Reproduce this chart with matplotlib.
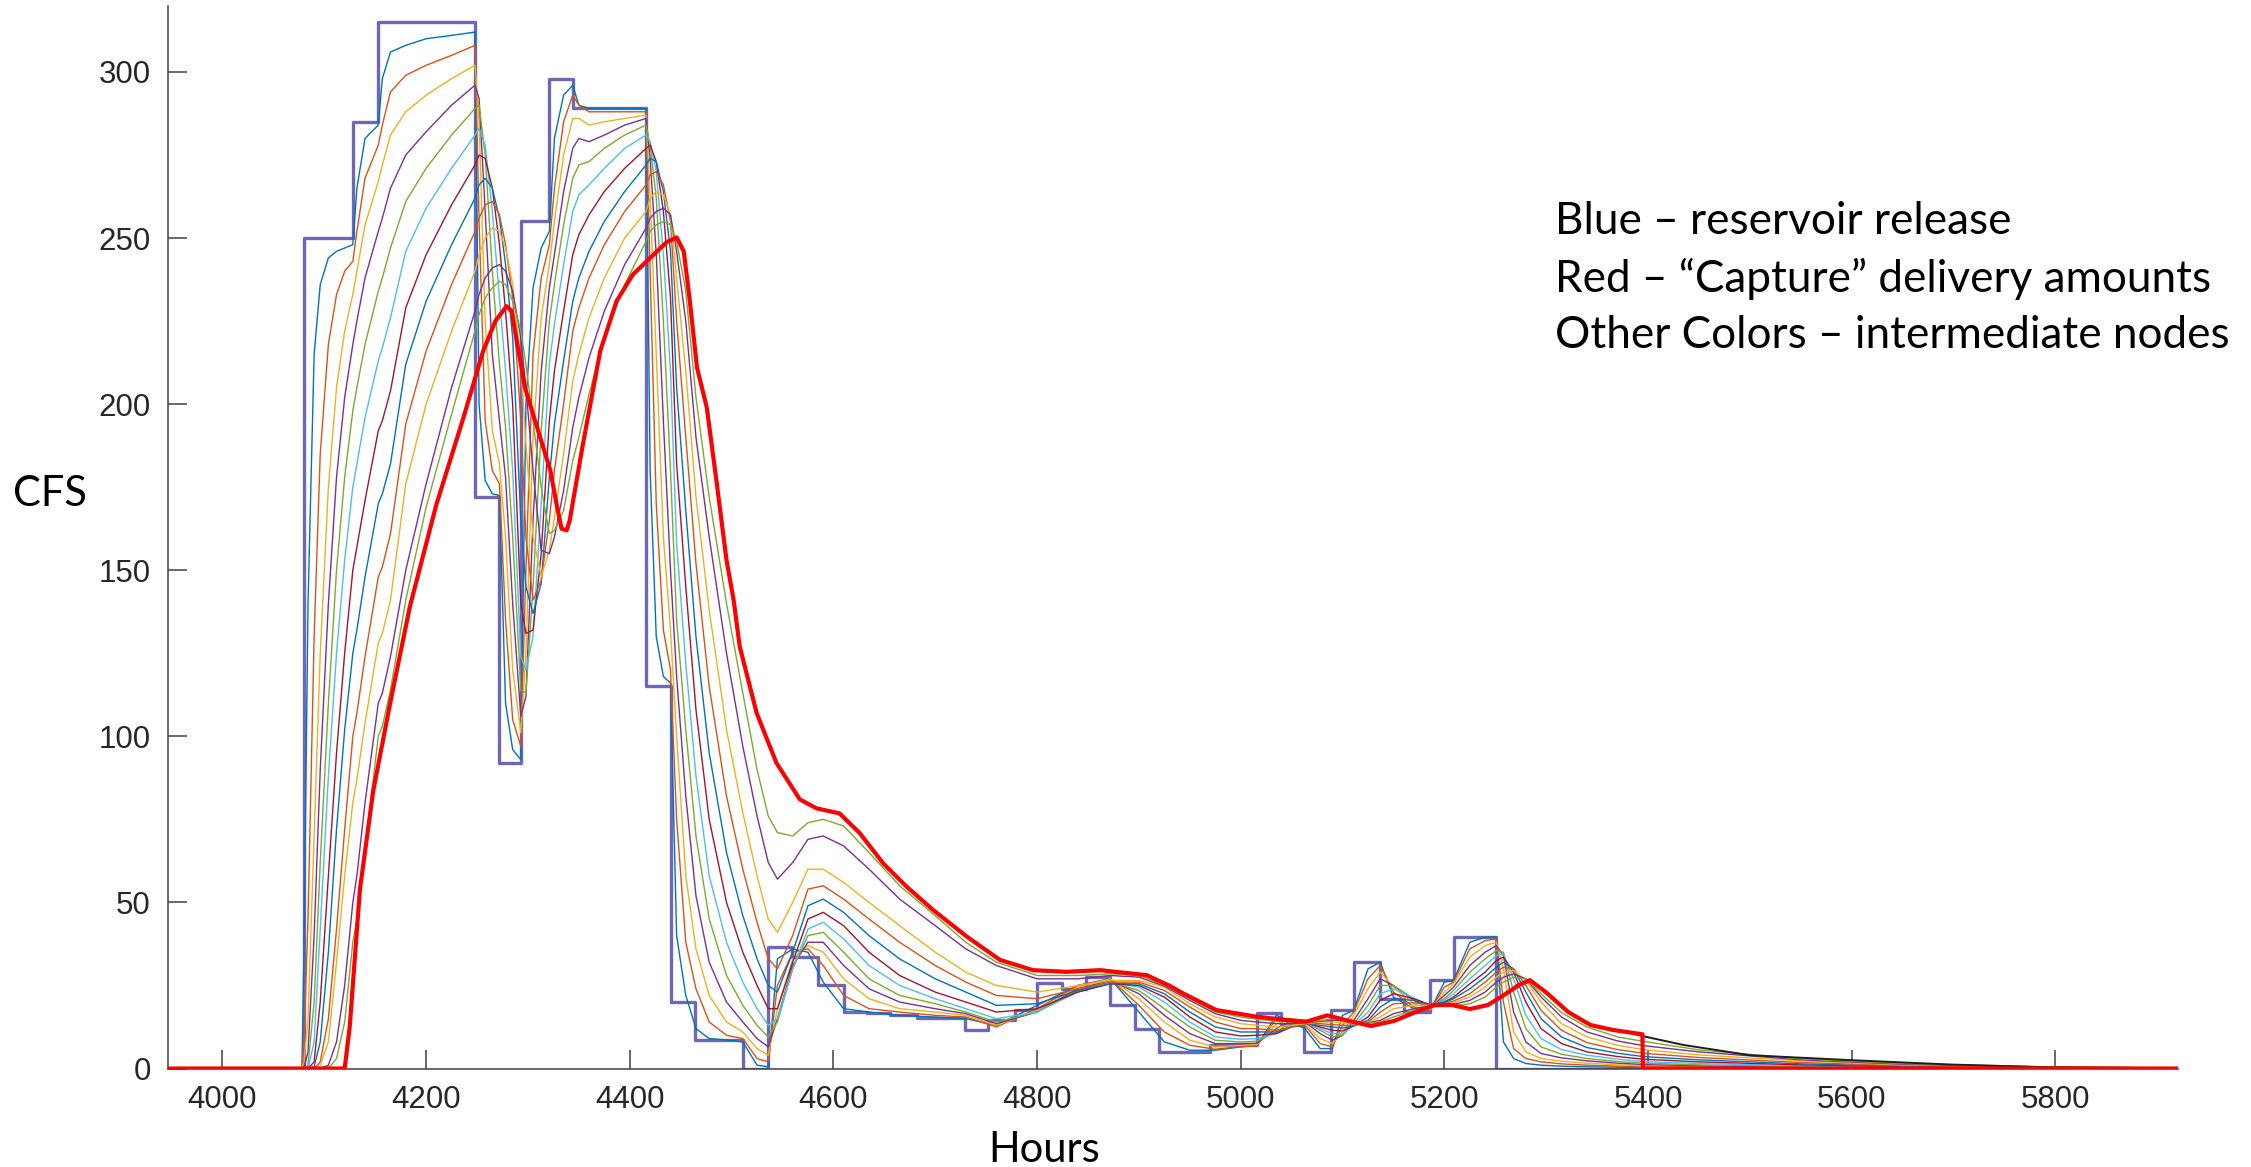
import numpy as np
import matplotlib
matplotlib.use("Agg")
import matplotlib.pyplot as plt

# ---------------- data ----------------
# Blue: reservoir release (step series, value holds until next hour listed)
release_hours = [3946, 4080, 4128, 4153, 4248, 4272, 4293, 4321, 4344, 4416,
                 4440, 4464, 4511, 4536, 4559, 4585, 4610, 4633, 4656, 4682,
                 4729, 4752, 4778, 4800, 4824, 4848, 4872, 4896, 4920, 4970,
                 5016, 5040, 5062, 5089, 5111, 5137, 5160, 5186, 5209, 5251, 5920]
release_cfs = [0, 250, 285, 315, 172, 92, 255, 298, 289, 115,
               20, 8.6, 0, 36.6, 33.7, 25.1, 17.1, 16.6, 16.1, 15.1,
               11.6, 14.6, 17.6, 25.6, 24, 27.6, 19.1, 12, 5.1, 7,
               16.6, 13, 5.1, 17.6, 32.2, 21, 17, 26.6, 39.6, 0, 0]

# Red: "Capture" delivery amounts
capture_hours = [3946, 4120, 4125, 4135, 4148, 4164.5, 4184, 4210, 4236.5, 4256,
                 4268, 4279, 4284, 4289, 4297, 4305, 4322, 4328, 4333, 4338,
                 4341, 4354, 4371, 4387, 4403, 4420, 4436, 4446, 4453, 4459,
                 4466, 4475.6, 4485.5, 4495, 4502, 4508, 4524.6, 4544, 4567, 4583.5,
                 4606, 4626, 4649, 4672, 4698, 4731, 4763.5, 4796, 4829, 4862,
                 4907.5, 4929.5, 4943.5, 4976, 5015.5, 5045, 5064.6, 5085, 5106.6, 5128,
                 5150.5, 5172, 5190, 5207.6, 5225, 5242.6, 5256, 5273, 5284, 5299.6,
                 5321.6, 5343.5, 5365.5, 5394.5, 5395, 5920]
capture_cfs = [0, 0, 12.7, 54, 83.5, 109.7, 139, 169.7, 195.8, 216,
               225, 229.5, 228, 219, 205, 197, 180, 170, 162.5, 162,
               165, 188, 216, 231, 239, 244, 248.7, 250.2, 246, 231,
               211, 199, 176, 153, 141, 127, 107, 92, 81, 78.3,
               76.8, 70.8, 61.7, 54.7, 47.7, 39.7, 32.7, 29.6, 29.1, 29.6,
               28.1, 25, 22.6, 17.6, 15.6, 14.6, 14.1, 16, 14.3, 12.8,
               14.3, 17.0, 19.1, 19.1, 17.9, 19.1, 21.6, 25.1, 26.6, 23,
               17, 13.1, 11.6, 10.3, 0, 0]

# Dark node that continues after the capture stops
tail_hours = [5380, 5394, 5434.6, 5500, 5600, 5696.5, 5794.7, 5920]
tail_cfs = [11.0, 9.8, 7.1, 4.0, 2.5, 1.2, 0.35, 0.1]

# Intermediate nodes: one row per hour, twelve nodes (fast -> slow)
node_hours = [3946, 4078, 4080, 4084, 4090, 4096, 4104, 4112, 4120, 4128,
              4132, 4140, 4153, 4157, 4165, 4180, 4200, 4225, 4248, 4252,
              4258, 4265, 4272, 4278, 4285, 4293, 4298, 4305, 4313, 4321,
              4326, 4335, 4344, 4350, 4360, 4375, 4395, 4416, 4420, 4426,
              4433, 4440, 4446, 4455, 4465, 4478, 4495, 4511, 4525, 4536,
              4545, 4560, 4575, 4590, 4610, 4635, 4665, 4700, 4730, 4760,
              4800, 4840, 4872, 4900, 4925, 4950, 4975, 5000, 5016, 5035,
              5050, 5063, 5078, 5090, 5100, 5111, 5125, 5137, 5150, 5170,
              5186, 5200, 5209, 5225, 5240, 5251, 5258, 5268, 5280, 5295,
              5315, 5340, 5370, 5395, 5450, 5550, 5650, 5800, 5920]
node_cfs_by_hour = [
    [0, 0, 0, 0, 0, 0, 0, 0, 0, 0, 0, 0],
    [0, 0, 0, 0, 0, 0, 0, 0, 0, 0, 0, 0],
    [35, 8, 2, 0, 0, 0, 0, 0, 0, 0, 0, 0],
    [140, 45, 15, 5, 1, 0, 0, 0, 0, 0, 0, 0],
    [215, 130, 70, 40, 20, 8, 2, 0.5, 0, 0, 0, 0],
    [236, 185, 125, 90, 62, 42, 20, 8, 2, 1, 0, 0],
    [244, 218, 175, 140, 110, 88, 58, 35, 15, 8, 1, 0],
    [246, 233, 205, 178, 150, 125, 95, 72, 42, 32, 8, 3],
    [247, 240, 222, 202, 178, 153, 125, 102, 72, 58, 25, 14],
    [248, 243, 233, 218, 198, 175, 150, 125, 100, 80, 50, 38],
    [265, 252, 240, 225, 205, 182, 157, 132, 107, 87, 58, 45],
    [280, 268, 254, 238, 218, 196, 171, 148, 124, 104, 80, 66],
    [284, 278, 267, 252, 234, 213, 192, 170, 148, 128, 110, 100],
    [298, 284, 272, 256, 238, 217, 195, 173, 151, 131, 113, 103],
    [306, 294, 281, 265, 247, 226, 204, 182, 161, 141, 124, 114],
    [308, 299, 288, 275, 261, 246, 229, 212, 194, 176, 150, 141],
    [310, 302, 293, 282, 271, 259, 245, 231, 216, 200, 176, 169],
    [311, 305, 298, 290, 281, 271, 260, 248, 236, 222, 205, 197],
    [312, 308, 302, 296, 289, 281, 272, 262, 252, 240, 228, 222],
    [200, 255, 285, 292, 290, 283, 275, 266, 256, 245, 233, 227],
    [177, 195, 225, 258, 275, 278, 274, 268, 260, 250, 238, 232],
    [173, 180, 192, 215, 240, 258, 265, 265, 261, 253, 241, 235],
    [172.5, 176, 182, 195, 212, 232, 248, 256, 257, 252, 242, 237],
    [110, 135, 160, 178, 193, 210, 228, 242, 248, 247, 240, 236],
    [96, 105, 120, 140, 160, 180, 200, 220, 232, 236, 234, 231],
    [93, 97, 101, 106, 114, 124, 140, 165, 195, 212, 220, 222],
    [200, 150, 125, 112, 113, 120, 131, 145, 160, 188, 205, 212],
    [235, 215, 190, 165, 145, 130, 132, 137, 141, 160, 180, 195],
    [247, 238, 226, 210, 192, 170, 155, 146, 147, 148, 156, 175],
    [252, 248, 242, 235, 225, 212, 195, 178, 165, 156, 155, 161],
    [280, 265, 255, 245, 236, 224, 210, 194, 180, 166, 160, 162],
    [293, 285, 275, 264, 254, 242, 228, 213, 200, 185, 174, 168],
    [296, 293, 286, 277, 268, 258, 245, 231, 222, 207, 193, 183],
    [290, 290, 286, 280, 272, 263, 251, 238, 229, 215, 202, 190],
    [289, 288, 284, 279, 273, 266, 257, 246, 238, 226, 214, 203],
    [289, 288, 285, 281, 277, 271, 264, 255, 248, 238, 228, 220],
    [289, 288, 286, 284, 281, 277, 271, 264, 258, 250, 242, 236],
    [289, 288, 287, 286, 284, 281, 277, 272, 266, 258, 253, 249],
    [180, 240, 262, 274, 278, 279, 278, 274, 269, 262, 256, 252],
    [130, 170, 215, 245, 262, 270, 273, 273, 270, 264, 258, 254],
    [118, 132, 160, 195, 225, 245, 258, 264, 266, 263, 259, 255],
    [116, 120, 132, 150, 180, 210, 232, 246, 255, 257, 257, 254],
    [40, 75, 100, 118, 135, 158, 182, 205, 225, 238, 246, 249],
    [22, 38, 58, 82, 102, 122, 145, 168, 190, 210, 225, 234],
    [12, 24, 36, 52, 70, 88, 108, 130, 152, 172, 190, 202],
    [9, 14, 22, 32, 45, 58, 75, 95, 115, 138, 160, 172],
    [8.6, 10, 14, 20, 28, 38, 50, 65, 82, 102, 125, 140],
    [8, 9, 11, 14, 19, 26, 35, 46, 60, 77, 97, 113],
    [1, 3, 6, 9, 13, 18, 25, 33, 44, 58, 76, 90],
    [0.5, 2, 4, 6.5, 9.5, 13, 18, 25, 33, 45, 62, 76],
    [33, 25, 18, 15, 14, 15, 18, 23, 30, 41, 57, 71],
    [36, 35, 33, 31, 30, 30, 32, 35, 40, 50, 62, 70],
    [35, 36, 37, 38, 40, 42, 45, 49, 54, 60, 69, 74],
    [26, 31, 35, 38, 41, 44, 47, 51, 55, 60, 70, 75],
    [18, 22, 27, 31, 35, 39, 43, 47, 51, 56, 67, 73],
    [17, 18, 21, 24, 27, 31, 35, 40, 45, 50, 60, 65],
    [16, 17, 18, 20, 22, 25, 28, 33, 38, 43, 51, 55],
    [15.5, 16, 17, 18, 19.5, 21, 23, 27, 31, 35, 43, 46],
    [15, 15.5, 16, 16.5, 17, 18, 20, 23, 26, 29, 36, 38],
    [13, 12.5, 13, 13.5, 14, 15, 17, 19, 22, 25, 31, 32],
    [19, 18, 17.5, 17, 17, 17, 18, 19.5, 21, 23, 27, 28],
    [25, 25, 24.5, 24, 23.5, 23, 23, 23.5, 24, 25, 27, 28],
    [27, 27, 27, 26.5, 26, 26, 25.5, 25.5, 26, 26.5, 28, 28.5],
    [17, 19, 21, 22.5, 23.5, 24.5, 25, 25.5, 26, 26.5, 27.5, 28],
    [8, 11, 14, 16, 18, 20, 21.5, 22.5, 23.5, 24.5, 24.8, 25.2],
    [5.5, 7, 8.5, 10.5, 12.5, 14, 15.5, 17, 18.5, 19.5, 20.5, 21],
    [5.5, 5.8, 6.5, 7.5, 8.5, 9.5, 11, 12.5, 14, 15.5, 16.5, 17],
    [6.5, 6.6, 7, 7.5, 8, 8.8, 9.8, 11, 12, 13.5, 14.5, 15.5],
    [7, 6.8, 7.2, 7.6, 8.2, 9, 10, 11, 12, 13, 14, 14.8],
    [16, 15, 13.5, 12, 11, 10.5, 10.5, 11, 11.5, 12.5, 13.5, 14.3],
    [14, 15, 15, 14.5, 14, 13, 12.5, 12.5, 12.5, 13, 13.5, 14],
    [12, 13, 13.5, 14, 14, 14, 13.8, 13.5, 13.5, 13.5, 13.8, 14],
    [6, 7.5, 9, 10.5, 11.5, 12, 12.5, 13, 13.5, 14, 14.2, 14.4],
    [6, 6.5, 7.5, 8.5, 9.5, 10.5, 11.5, 12.5, 13.2, 14, 14.5, 15],
    [16, 13, 11, 10, 10, 10.5, 11.3, 12.2, 13, 13.8, 14.5, 14.8],
    [17.5, 17, 16, 14.5, 13.5, 13, 12.8, 12.8, 13, 13.5, 14, 14.2],
    [30, 27, 24, 21, 19, 17, 15.5, 14.5, 14, 13.8, 13.7, 13.6],
    [32, 31, 29, 27, 25, 22.5, 20.5, 18.5, 17, 15.5, 14.5, 14],
    [21.5, 23, 24.5, 25, 25, 24, 22.5, 21, 19.5, 18, 16.5, 15.5],
    [18, 18.5, 19.5, 20.5, 21, 21.2, 21, 20.5, 19.8, 19, 18, 17.5],
    [17.5, 17.5, 17.8, 18.2, 18.6, 19, 19.2, 19.2, 19.1, 19, 18.8, 18.6],
    [26, 24.5, 23, 22, 21, 20.5, 20, 19.8, 19.5, 19.2, 19, 18.7],
    [26.5, 26, 25.5, 24.5, 23.5, 22.5, 21.5, 21, 20.3, 19.8, 19.3, 18.8],
    [38, 36, 33.5, 31, 29, 27, 25.5, 24, 22.5, 21.5, 20.5, 19.5],
    [39.5, 38.5, 37, 35, 33, 31, 29, 27.5, 26, 24.5, 23, 21.5],
    [39.6, 39, 38, 37, 35.5, 34, 32.5, 30.5, 29, 27.5, 26, 24.5],
    [8, 20, 30, 34, 35, 34.5, 33.5, 32, 30.5, 29, 27.5, 26],
    [3, 6, 11, 17, 23, 27, 29, 30, 30, 29.5, 28.5, 27.5],
    [1.5, 3, 5, 8, 12, 16, 20, 23, 25, 26.5, 27, 27],
    [1, 2, 3, 4.5, 6.5, 9, 12, 15, 17.5, 20, 21.5, 22.5],
    [0.7, 1.4, 2.2, 3.2, 4.3, 5.7, 7.5, 9.5, 11.5, 13.5, 15.5, 16.8],
    [0.5, 1, 1.6, 2.3, 3, 4, 5, 6.3, 7.8, 9.5, 11, 12.5],
    [0.4, 0.7, 1.1, 1.6, 2.1, 2.8, 3.6, 4.6, 5.7, 7, 8.3, 9.5],
    [0.3, 0.5, 0.8, 1.2, 1.6, 2.1, 2.8, 3.6, 4.6, 5.7, 6.9, 8.2],
    [0.2, 0.35, 0.55, 0.8, 1.1, 1.5, 2, 2.6, 3.3, 4.1, 5, 5.6],
    [0.1, 0.2, 0.3, 0.4, 0.6, 0.8, 1.1, 1.4, 1.8, 2.3, 2.6, 2.9],
    [0.05, 0.1, 0.15, 0.2, 0.3, 0.4, 0.55, 0.7, 0.9, 1.1, 1.3, 1.5],
    [0, 0.02, 0.05, 0.08, 0.1, 0.15, 0.2, 0.25, 0.3, 0.35, 0.4, 0.45],
    [0, 0, 0, 0, 0.03, 0.05, 0.07, 0.08, 0.1, 0.12, 0.14, 0.15],
]

x_ticks = [4000, 4200, 4400, 4600, 4800, 5000, 5200, 5400, 5600, 5800]
y_ticks = [0, 50, 100, 150, 200, 250, 300]

notes = ["Blue \u2013 reservoir release",
         "Red \u2013 \u201cCapture\u201d delivery amounts",
         "Other Colors \u2013 intermediate nodes"]

# ---------------- figure ----------------
W, H = 2251, 1167
fig = plt.figure(figsize=(W / 100, H / 100), dpi=100)
ax = fig.add_axes([167.5 / W, 98.5 / H, 2010 / W, 1063 / H])

matlab_colors = ['#0072BD', '#D95319', '#EDB120', '#7E2F8E',
                 '#77AC30', '#4DBEEE', '#A2142F']

ax.step(release_hours, release_cfs, where='post', color='#6E67B6', lw=2.4,
        zorder=2)
nodes = np.array(node_cfs_by_hour, dtype=float).T
for i, series in enumerate(nodes):
    ax.plot(node_hours, series, color=matlab_colors[i % 7], lw=1.0, zorder=3)
ax.plot(tail_hours, tail_cfs, color='#1E1E1E', lw=1.4, zorder=3)
ax.plot(capture_hours, capture_cfs, color='#FF0000', lw=3.0, zorder=4)

ax.set_xlim(3946, 5920)
ax.set_ylim(0, 320)
ax.set_xticks(x_ticks)
ax.set_yticks(y_ticks)
for s in ['top', 'right']:
    ax.spines[s].set_visible(False)
for s in ['left', 'bottom']:
    ax.spines[s].set_color('#404040')
    ax.spines[s].set_linewidth(1.1)
ax.tick_params(direction='in', length=14, width=1.1, color='#404040',
               labelcolor='#262626', labelsize=22.5, pad=12)
for lab in ax.get_xticklabels() + ax.get_yticklabels():
    lab.set_family('Liberation Sans')

fig.text(50 / W, 1 - 494 / H, "CFS", family='Lato', fontsize=30,
         ha='center', va='center', color='black')
fig.text(1044 / W, 1 - 1150 / H, "Hours", family='Lato', fontsize=30,
         ha='center', va='center', color='black')
for k, (txt, yc) in enumerate(zip(notes, [221, 279, 336])):
    fig.text(1555 / W, 1 - yc / H, txt, family='Lato', fontsize=31.8,
             ha='left', va='center', color='black')

fig.savefig('out.png', dpi=100)
